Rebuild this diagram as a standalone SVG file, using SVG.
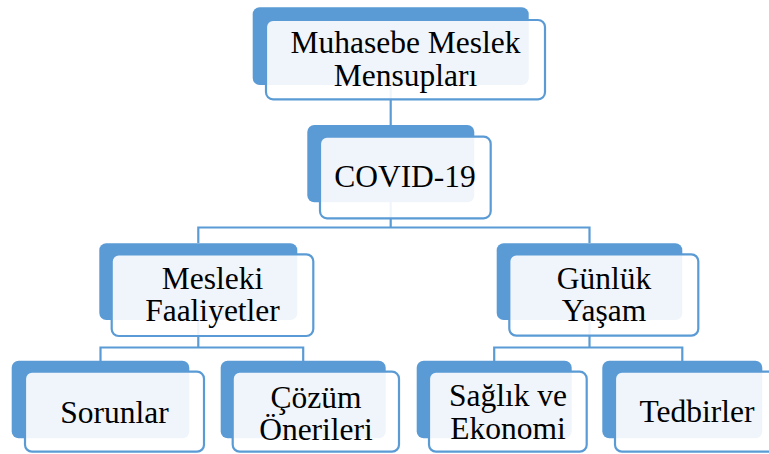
<svg xmlns="http://www.w3.org/2000/svg" width="769" height="454" viewBox="0 0 769 454">
<style>
.back{fill:#5B9BD5;}
.front{fill:#FFFFFF;fill-opacity:0.9;stroke:#5B9BD5;stroke-width:2.2;}
.conn{fill:none;stroke:#5B9BD5;stroke-width:2.2;}
.faint{stroke-opacity:0.35;}
text{font-family:"Liberation Serif","Times New Roman",serif;font-size:31.5px;fill:#000;text-anchor:middle;}
</style>
<rect width="769" height="454" fill="#FFFFFF"/>
<g id="connectors">
<path class="conn" d="M390.7,85 V125"/>
<path class="conn" d="M390.7,202 V227.5 M198.3,243 V227.5 H589.5 V243"/>
<path class="conn" d="M198.3,320 V347.5 M100.5,361 V347.5 H303.2 V361"/>
<path class="conn" d="M589.5,320 V347.5 M494.2,361 V347.5 H682.3 V361"/>
</g>
<g id="n-muhasebe">
<rect class="back" x="252.7" y="7.3" width="276" height="77.7" rx="7"/>
<rect class="front" x="266" y="20" width="279" height="79.3" rx="7"/>
<text x="405.5" y="53">Muhasebe Meslek</text>
<text x="405.5" y="86">Mensupları</text>
</g>
<g id="n-covid">
<rect class="back" x="307.3" y="125" width="167" height="77.3" rx="7"/>
<rect class="front" x="320" y="136.7" width="170.7" height="81.6" rx="7"/>
<text x="405" y="187">COVID-19</text>
</g>
<g id="n-mesleki">
<rect class="back" x="99.3" y="243.3" width="198" height="76.7" rx="7"/>
<rect class="front" x="111.7" y="254.3" width="201.6" height="81.7" rx="7"/>
<text x="212.5" y="289">Mesleki</text>
<text x="212.5" y="321">Faaliyetler</text>
</g>
<g id="n-gunluk">
<rect class="back" x="496.7" y="243.3" width="185.6" height="76.7" rx="7"/>
<rect class="front" x="509.3" y="254.3" width="189" height="81.4" rx="7"/>
<text x="604" y="288.5">Günlük</text>
<text x="604" y="320.5">Yaşam</text>
</g>
<g id="n-sorunlar">
<rect class="back" x="11.7" y="360.7" width="177.6" height="77.6" rx="7"/>
<rect class="front" x="25" y="371.7" width="179" height="80" rx="7"/>
<text x="114.5" y="423">Sorunlar</text>
</g>
<g id="n-cozum">
<rect class="back" x="220.7" y="360.7" width="165" height="77.6" rx="7"/>
<rect class="front" x="232.7" y="371.7" width="166.3" height="80" rx="7"/>
<text x="316" y="408">Çözüm</text>
<text x="316" y="440">Önerileri</text>
</g>
<g id="n-saglik">
<rect class="back" x="416.7" y="360.7" width="155" height="77.6" rx="7"/>
<rect class="front" x="429" y="371.7" width="157.7" height="80" rx="7"/>
<text x="508" y="406">Sağlık ve</text>
<text x="508" y="439">Ekonomi</text>
</g>
<g id="n-tedbirler">
<rect class="back" x="602.3" y="360.7" width="160" height="77.6" rx="7"/>
<rect class="front" x="615" y="371.7" width="164" height="80" rx="7"/>
<text x="697" y="422">Tedbirler</text>
</g>
</svg>
